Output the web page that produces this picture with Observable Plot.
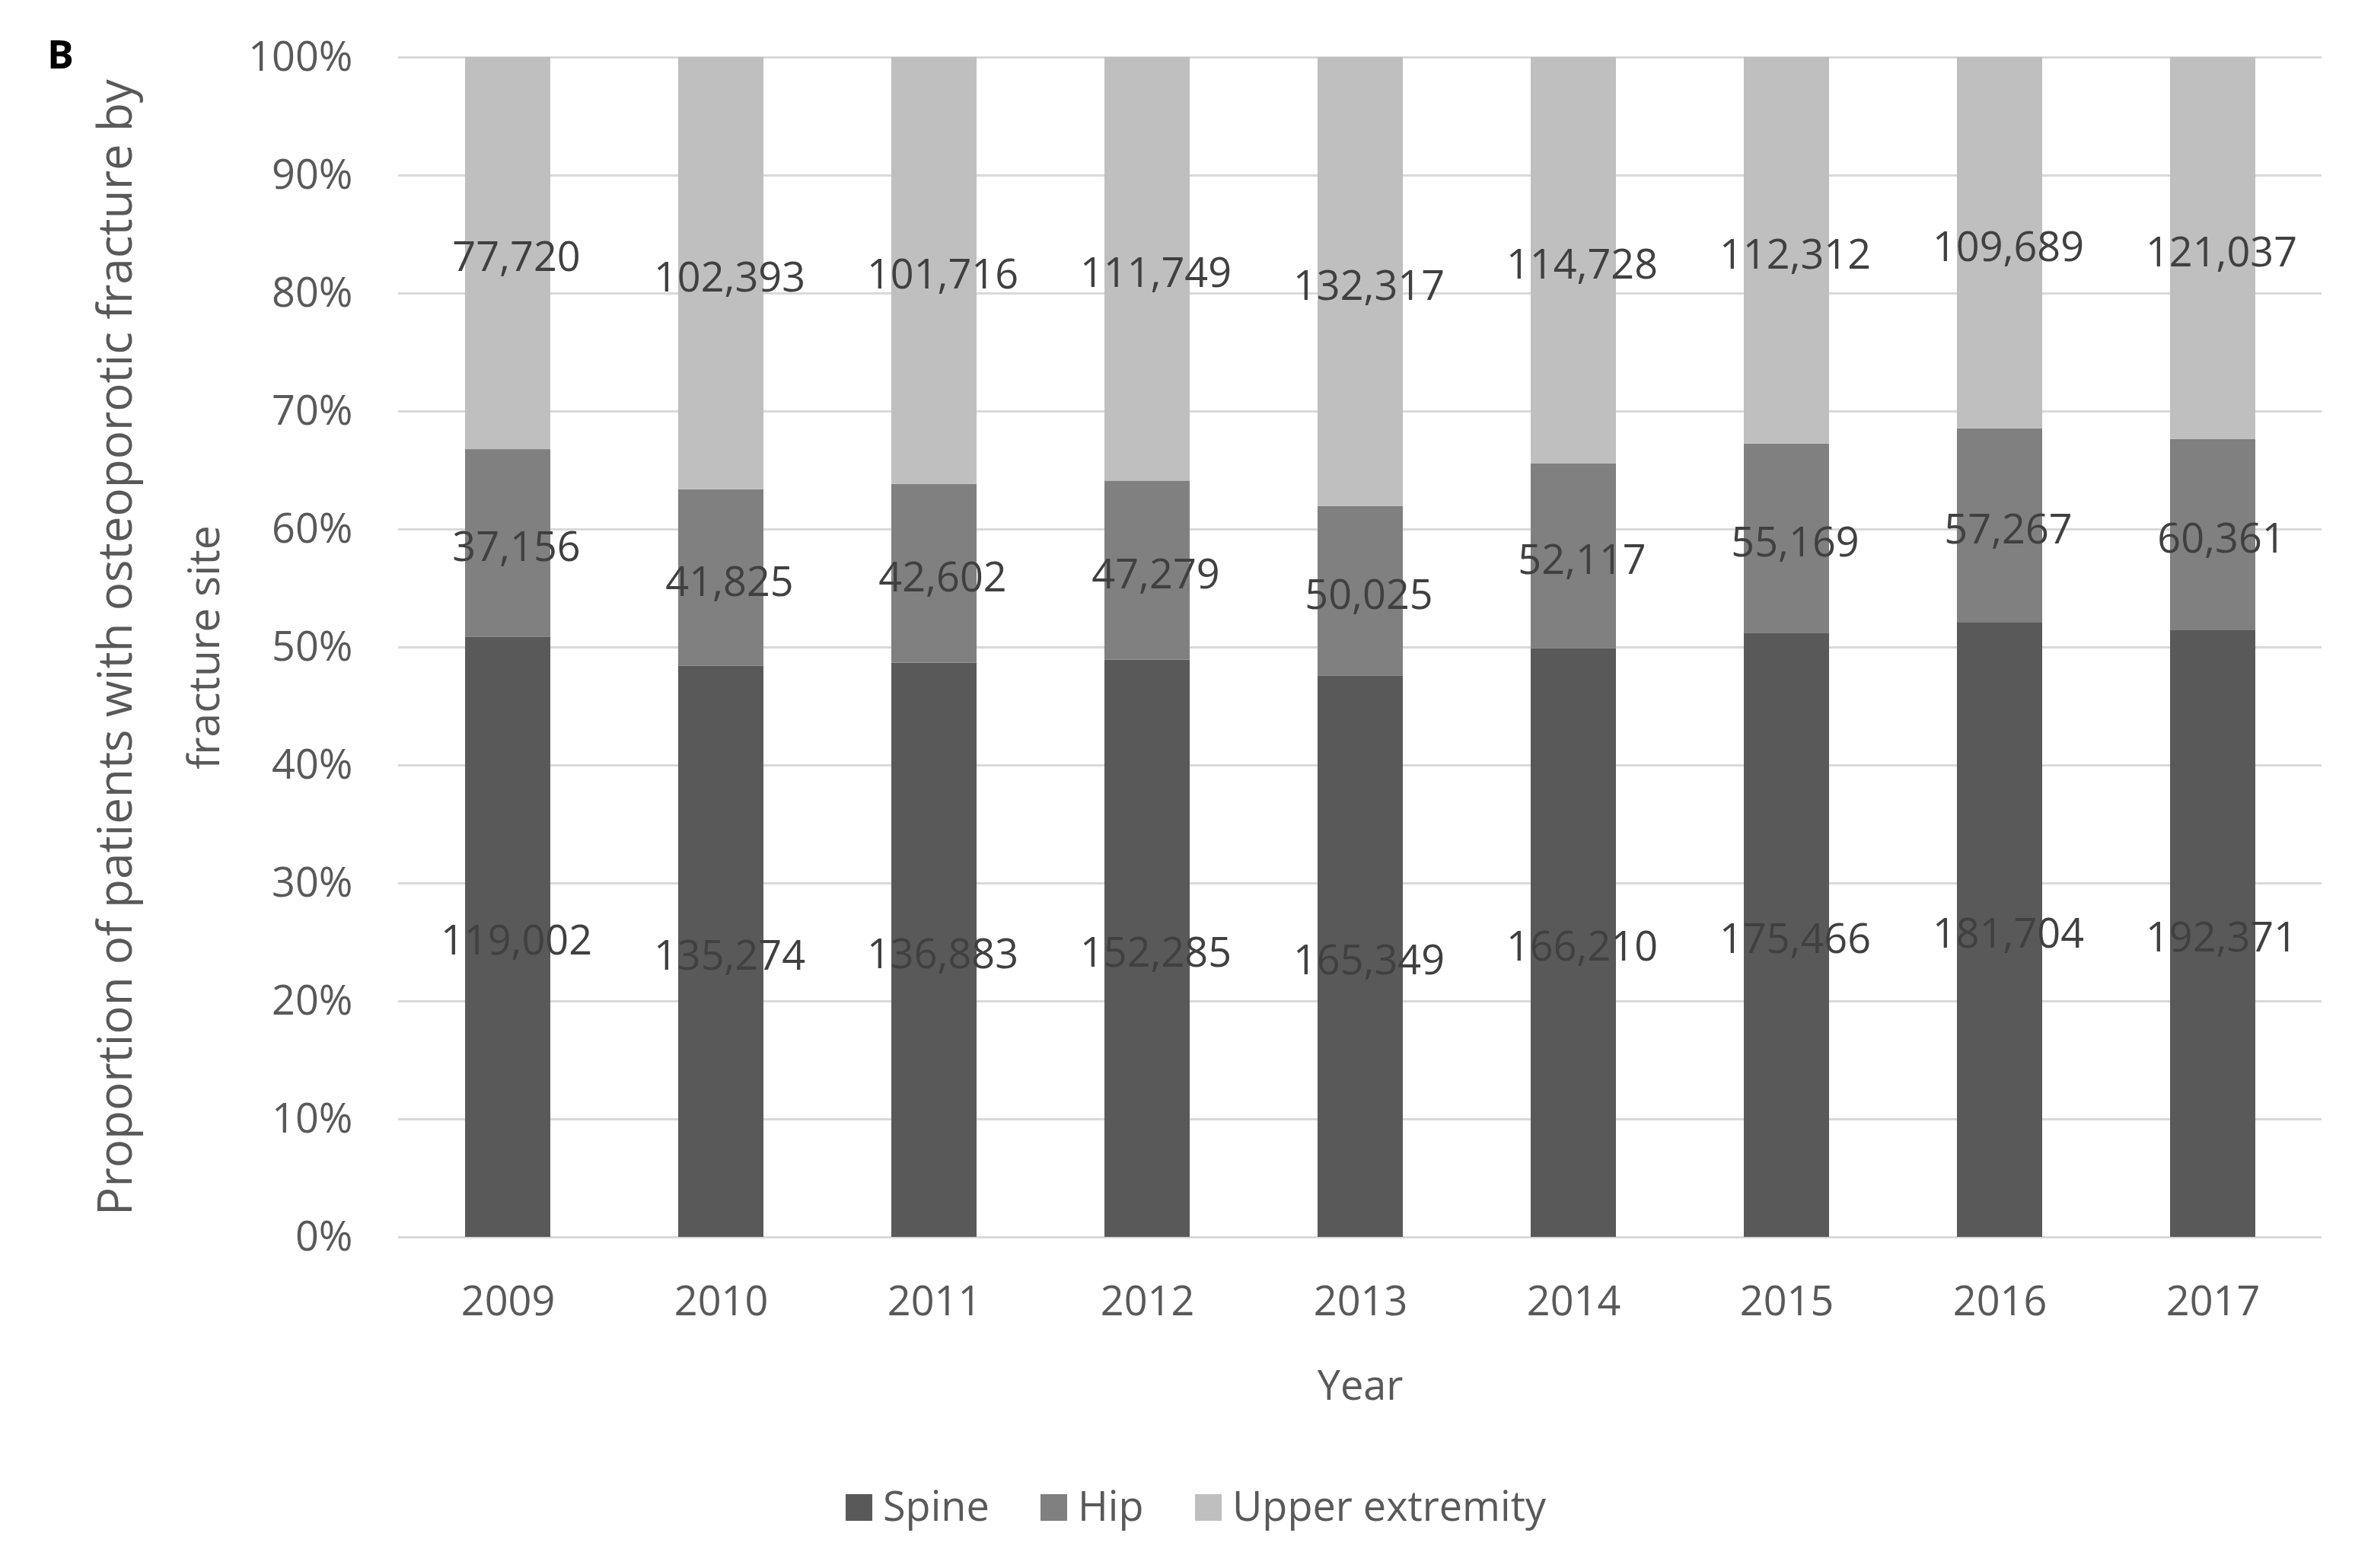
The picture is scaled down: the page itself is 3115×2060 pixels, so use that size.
<!DOCTYPE html>
<html>
<head>
<meta charset="utf-8">
<script src="https://cdn.jsdelivr.net/npm/d3@7"></script>
<script src="https://cdn.jsdelivr.net/npm/@observablehq/plot@0.6"></script>
<style>
  body { margin: 0; background: #fff; }
  #wrap { position: relative; width: 3115px; height: 2060px; font-family: "Open Sans", sans-serif; background: #fff; overflow: hidden; }
  #wrap svg { position: absolute; left: 0; top: 0; z-index: 0; }
  #panel { position: absolute; left: 62px; top: 44px; font-weight: 700; font-size: 52px; line-height: 1; color: #000; z-index: 2; }
  .item { position: absolute; top: 1950px; display: flex; align-items: center; font-size: 54px; line-height: 1; color: #595959; white-space: nowrap; z-index: 2; }
  .sw { width: 35px; height: 35px; margin-right: 14px; margin-top: 6px; }
</style>
</head>
<body>
<div id="wrap"></div>
<script>
// ---- data ----
const years = ["2009", "2010", "2011", "2012", "2013", "2014", "2015", "2016", "2017"];
const sites = ["Spine", "Hip", "Upper extremity"];
const spine = [119002, 135274, 136883, 152285, 165349, 166210, 175466, 181704, 192371];
const hip = [37156, 41825, 42602, 47279, 50025, 52117, 55169, 57267, 60361];
const upper = [77720, 102393, 101716, 111749, 132317, 114728, 112312, 109689, 121037];
const siteColors = ["#595959", "#808080", "#bfbfbf"];
const yTicks = [0, 0.1, 0.2, 0.3, 0.4, 0.5, 0.6, 0.7, 0.8, 0.9, 1];
const yTitle = ["Proportion of patients with osteoporotic fracture by", "fracture site"];
const xTitle = "Year";
const panelLabel = "B";
const legendLeft = [1111, 1367, 1570];

// ---- table ----
const series = [spine, hip, upper];
const data = [];
years.forEach((yr, i) => {
  sites.forEach((s, k) => data.push({ year: yr, site: s, value: series[k][i] }));
});

const fmt = d3.format(",");

const plot = Plot.plot({
  width: 3115,
  height: 1900,
  marginLeft: 523,
  marginRight: 65,
  marginTop: 75,
  marginBottom: 275,
  style: { fontFamily: '"Open Sans", sans-serif', fontSize: "54px", color: "#595959", background: "#fff" },
  x: { domain: years, paddingInner: 0.6, paddingOuter: 0.3, label: null },
  y: { domain: [0, 1], label: null },
  color: { domain: sites, range: siteColors },
  marks: [
    Plot.gridY(yTicks, { stroke: "#d9d9d9", strokeOpacity: 1, strokeWidth: 3 }),
    Plot.barY(data, Plot.stackY({ x: "year", y: "value", z: "site", fill: "site", order: sites, offset: "normalize" })),
    Plot.text(data, Plot.stackY({
      x: "year", y: "value", z: "site", order: sites, offset: "normalize",
      text: d => fmt(d.value), fill: "#404040", dx: 11, dy: 6, fontSize: 54
    })),
    Plot.axisY({ ticks: yTicks, tickSize: 0, tickPadding: 60, tickFormat: d => Math.round(d * 100) + "%", label: null, fill: "#595959" }),
    Plot.axisX({ tickSize: 0, tickPadding: 64, label: null, fill: "#595959" }),
    Plot.text([yTitle[0]], { text: d => d, frameAnchor: "left", rotate: -90, textAnchor: "middle", lineAnchor: "middle", dx: -370, fill: "#595959", fontSize: 62 }),
    Plot.text([yTitle[1]], { text: d => d, frameAnchor: "left", rotate: -90, textAnchor: "middle", lineAnchor: "middle", dx: -254, fill: "#595959", fontSize: 57 }),
    Plot.text([xTitle], { text: d => d, frameAnchor: "bottom", textAnchor: "middle", lineAnchor: "top", dy: 175, fill: "#595959" })
  ]
});

const wrap = document.getElementById("wrap");
wrap.appendChild(plot);

const panel = document.createElement("div");
panel.id = "panel";
panel.textContent = panelLabel;
wrap.appendChild(panel);

sites.forEach((s, k) => {
  const item = document.createElement("div");
  item.className = "item";
  item.style.left = legendLeft[k] + "px";
  const sw = document.createElement("div");
  sw.className = "sw";
  sw.style.background = siteColors[k];
  const t = document.createElement("span");
  t.textContent = s;
  item.appendChild(sw);
  item.appendChild(t);
  wrap.appendChild(item);
});
</script>
</body>
</html>
